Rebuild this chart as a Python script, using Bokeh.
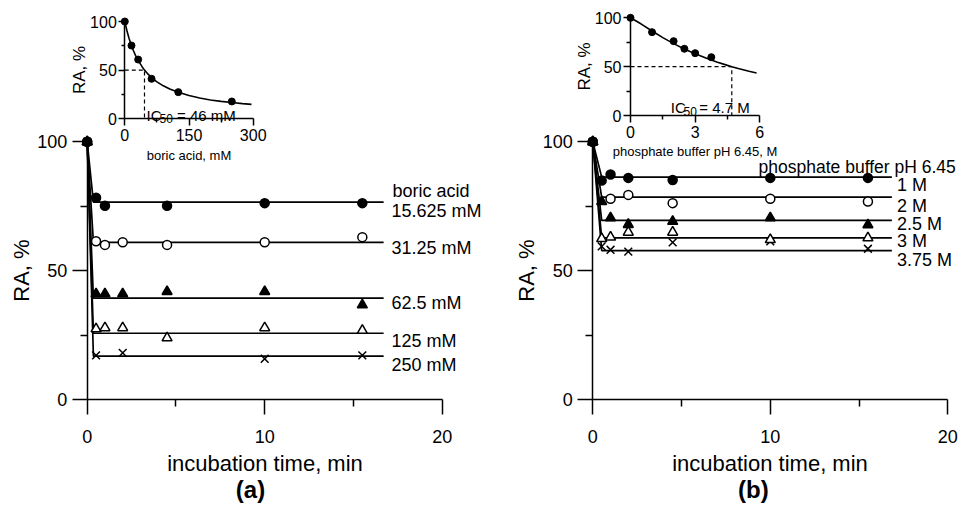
from bokeh.plotting import figure
from bokeh.models import Range1d, LinearAxis, FixedTicker, Label
from bokeh.embed import file_html
from bokeh.resources import INLINE

# ---------------- data ----------------
# (a) boric acid, main panel: incubation time (min) vs RA (%)
a_series = ["15.625 mM", "31.25 mM", "62.5 mM", "125 mM", "250 mM"]
a_t_1 = [0, 0.5, 1, 4.5, 10, 15.5]
a_ra_1 = [100, 78.3, 75.2, 75.2, 76.2, 76.2]
a_t_2 = [0, 0.5, 1, 2, 4.5, 10, 15.5]
a_ra_2 = [100, 61.4, 60.0, 61.0, 60.0, 61.0, 63.0]
a_t_3 = [0, 0.5, 1, 2, 4.5, 10, 15.5]
a_ra_3 = [100, 41.0, 41.0, 41.0, 41.9, 41.9, 36.7]
a_t_4 = [0, 0.5, 1, 2, 4.5, 10, 15.5]
a_ra_4 = [100, 27.4, 27.8, 27.8, 23.9, 27.8, 26.8]
a_t_5 = [0, 0.5, 2, 10, 15.5]
a_ra_5 = [100, 17.1, 18.1, 15.8, 17.1]
a_fit_t = [0, 0.35, 16.7]
a_fit_start = 100
a_plateau = [76.6, 61.0, 39.3, 25.7, 16.8]

# (b) phosphate buffer, main panel
b_series = ["1 M", "2 M", "2.5 M", "3 M", "3.75 M"]
b_t_1 = [0, 0.5, 1, 2, 4.5, 10, 15.5]
b_ra_1 = [100, 85.0, 87.3, 86.0, 85.2, 86.0, 86.0]
b_t_2 = [0, 1, 2, 4.5, 10, 15.5]
b_ra_2 = [100, 77.9, 79.4, 76.2, 77.9, 76.8]
b_t_3 = [0, 0.5, 1, 2, 4.5, 10, 15.5]
b_ra_3 = [100, 76.8, 70.5, 67.9, 69.1, 70.5, 67.8]
b_t_4 = [0, 0.5, 1, 2, 4.5, 10, 15.5]
b_ra_4 = [100, 62.4, 63.0, 64.9, 64.9, 62.0, 62.7]
b_t_5 = [0, 0.5, 1, 2, 4.5, 10, 15.5]
b_ra_5 = [100, 59.4, 58.1, 57.4, 61.0, 61.4, 58.5]
b_fit_t = [0, 0.5, 16.85]
b_fit_start = 100
b_plateau = [86.3, 78.5, 69.5, 62.7, 57.8]

# inset (a): boric acid concentration (mM) vs RA (%)
ia_conc = [0, 15.625, 31.25, 62.5, 125, 250]
ia_ra = [100, 75.3, 60.9, 41.1, 27.4, 17.8]
ia_fit_x = [0, 5, 10, 15.6, 20, 25, 31.25, 40, 46, 55, 62.5, 75, 90, 105, 125,
            150, 175, 200, 225, 250, 275, 296]
ia_fit_y = [100, 90.5, 82.5, 75.2, 70.2, 65.2, 60.0, 53.8, 50.0, 45.6, 42.3, 37.9,
            33.9, 30.6, 27.2, 23.9, 21.3, 19.4, 17.9, 16.7, 15.6, 14.8]
ia_ic50 = 46

# inset (b): phosphate buffer concentration (M) vs RA (%)
ib_conc = [0, 1, 2, 2.5, 3, 3.75]
ib_ra = [100, 85.3, 76.1, 68.3, 63.8, 59.7]
ib_fit_x = [0, 0.5, 1, 1.5, 2, 2.5, 3, 3.5, 4, 4.5, 4.7, 5, 5.5, 5.85]
ib_fit_y = [100, 93.6, 86.5, 79.7, 73.6, 68.1, 63.2, 58.8, 54.8, 51.3, 50.0, 48.1, 45.3, 43.5]
ib_ic50 = 4.7

# ---------------- layout ----------------
W, H = 958, 503
FONT = "Liberation Sans"


def lin_range(v1, p1, v2, p2, size):
    s = (p2 - p1) / (v2 - v1)
    start = v1 - p1 / s
    return Range1d(start=start, end=start + size / s)


p = figure(width=W, height=H, title=None, toolbar_location=None,
           output_backend="svg", x_axis_type=None, y_axis_type=None,
           min_border=0, min_border_left=0, min_border_right=0,
           min_border_top=0, min_border_bottom=0)
p.outline_line_color = None
p.background_fill_color = "white"
p.border_fill_color = "white"

p.x_range = lin_range(0, 86.7, 20, 441.7, W)
p.y_range = lin_range(0, 104, 100, 361.7, H)
p.extra_x_ranges = {
    "bx": lin_range(0, 592.3, 20, 947.3, W),
    "iax": lin_range(0, 124.3, 300, 252.7, W),
    "ibx": lin_range(0, 630, 6, 759.3, W),
}
p.extra_y_ranges = {
    "iay": lin_range(0, 384.7, 100, 482, H),
    "iby": lin_range(0, 388, 100, 485.7, H),
}


def style_axis(ax, tick_font, label_font, major_out, minor_out, standoff, label_standoff):
    ax.axis_line_color = "black"
    ax.axis_line_width = 1.5
    ax.major_tick_line_color = "black"
    ax.major_tick_line_width = 1.5
    ax.minor_tick_line_color = "black"
    ax.minor_tick_line_width = 1.5
    ax.major_tick_in = 0
    ax.major_tick_out = major_out
    ax.minor_tick_in = 0
    ax.minor_tick_out = minor_out
    ax.major_label_text_font = FONT
    ax.major_label_text_font_size = tick_font
    ax.major_label_text_color = "black"
    ax.major_label_standoff = standoff
    ax.axis_label_text_font = FONT
    ax.axis_label_text_font_size = label_font
    ax.axis_label_text_font_style = "normal"
    ax.axis_label_text_color = "black"
    ax.axis_label_standoff = label_standoff


# main axes (a)
ax = LinearAxis(fixed_location=0, bounds=(0, 100), axis_label="RA, %",
                ticker=FixedTicker(ticks=[0, 50, 100], minor_ticks=[25, 75]))
style_axis(ax, "18px", "22px", 15, 7, 5, 0)
p.add_layout(ax, "left")
ax = LinearAxis(fixed_location=0, bounds=(0, 20), axis_label="incubation time, min",
                ticker=FixedTicker(ticks=[0, 10, 20], minor_ticks=[5, 15]))
style_axis(ax, "18px", "22px", 15, 7, 15, 5)
p.add_layout(ax, "below")

# main axes (b)
ax = LinearAxis(x_range_name="bx", fixed_location=0, bounds=(0, 100), axis_label="RA, %",
                ticker=FixedTicker(ticks=[0, 50, 100], minor_ticks=[25, 75]))
style_axis(ax, "18px", "22px", 15, 7, 5, 0)
p.add_layout(ax, "left")
ax = LinearAxis(x_range_name="bx", fixed_location=0, bounds=(0, 20),
                axis_label="incubation time, min",
                ticker=FixedTicker(ticks=[0, 10, 20], minor_ticks=[5, 15]))
style_axis(ax, "18px", "22px", 15, 7, 15, 5)
p.add_layout(ax, "below")

# inset axes (a)
ax = LinearAxis(x_range_name="iax", y_range_name="iay", fixed_location=0, bounds=(0, 100),
                axis_label="RA, %",
                ticker=FixedTicker(ticks=[0, 50, 100], minor_ticks=[25, 75]))
style_axis(ax, "16px", "17px", 6, 3, 2, -2)
p.add_layout(ax, "left")
ax = LinearAxis(x_range_name="iax", y_range_name="iay", fixed_location=0, bounds=(0, 300),
                axis_label="boric acid, mM",
                ticker=FixedTicker(ticks=[0, 150, 300], minor_ticks=[75, 225]))
style_axis(ax, "16px", "13px", 7, 4, 3, 4)
p.add_layout(ax, "below")

# inset axes (b)
ax = LinearAxis(x_range_name="ibx", y_range_name="iby", fixed_location=0, bounds=(0, 100),
                axis_label="RA, %",
                ticker=FixedTicker(ticks=[0, 50, 100], minor_ticks=[25, 75]))
style_axis(ax, "16px", "17px", 7, 4, 2, -2)
p.add_layout(ax, "left")
ax = LinearAxis(x_range_name="ibx", y_range_name="iby", fixed_location=0, bounds=(0, 6),
                axis_label="phosphate buffer pH 6.45, M",
                ticker=FixedTicker(ticks=[0, 3, 6], minor_ticks=[1.5, 4.5]))
style_axis(ax, "16px", "13px", 7, 4, 3, 3)
p.add_layout(ax, "below")

# ---------------- marks ----------------
markers = [
    dict(marker="circle", size=9, fill_color="black"),
    dict(marker="circle", size=9, fill_color="white"),
    dict(marker="triangle", size=10, fill_color="black"),
    dict(marker="triangle", size=10, fill_color="white"),
    dict(marker="x", size=11, fill_color=None),
]

# fit lines
for plat in a_plateau:
    p.line(a_fit_t, [a_fit_start, plat, plat], line_color="black", line_width=1.7)
for plat in b_plateau:
    p.line(b_fit_t, [b_fit_start, plat, plat], line_color="black", line_width=1.7,
           x_range_name="bx")

a_data = [(a_t_1, a_ra_1), (a_t_2, a_ra_2), (a_t_3, a_ra_3), (a_t_4, a_ra_4), (a_t_5, a_ra_5)]
b_data = [(b_t_1, b_ra_1), (b_t_2, b_ra_2), (b_t_3, b_ra_3), (b_t_4, b_ra_4), (b_t_5, b_ra_5)]
order = [4, 3, 1, 2, 0]  # draw open markers first so filled ones sit on top at t = 0
for i in order:
    tt, rr = a_data[i]
    p.scatter(tt, rr, line_color="black", line_width=1.5, **markers[i])
for i in order:
    tt, rr = b_data[i]
    p.scatter(tt, rr, line_color="black", line_width=1.5, x_range_name="bx", **markers[i])

# insets
p.line(ia_fit_x, ia_fit_y, line_color="black", line_width=1.6,
       x_range_name="iax", y_range_name="iay")
p.line([0, ia_ic50, ia_ic50], [50, 50, 0], line_color="black", line_width=1.2,
       line_dash="4 3", x_range_name="iax", y_range_name="iay")
p.scatter(ia_conc, ia_ra, marker="circle", size=7, fill_color="black", line_color="black",
          x_range_name="iax", y_range_name="iay")

p.line(ib_fit_x, ib_fit_y, line_color="black", line_width=1.6,
       x_range_name="ibx", y_range_name="iby")
p.line([0, ib_ic50, ib_ic50], [50, 50, 0], line_color="black", line_width=1.2,
       line_dash="4 3", x_range_name="ibx", y_range_name="iby")
p.scatter(ib_conc, ib_ra, marker="circle", size=7, fill_color="black", line_color="black",
          x_range_name="ibx", y_range_name="iby")

# ---------------- texts ----------------
def label(text, x, y, size, xr="default", yr="default", align="left", baseline="alphabetic",
          x_offset=0, y_offset=0, style="normal"):
    p.add_layout(Label(x=x, y=y, text=text, x_range_name=xr, y_range_name=yr,
                       text_font=FONT, text_font_size=size, text_color="black",
                       text_align=align, text_baseline=baseline, text_font_style=style,
                       x_offset=x_offset, y_offset=y_offset))

a_label_y = [73.3, 58.9, 37.4, 22.6, 13.5]
b_label_y = [83.3, 75.0, 68.2, 61.4, 54.2]
label("boric acid", 17.2, 81.1, "18px")
for name, yy in zip(a_series, a_label_y):
    label(name, 17.14, yy, "18px")
label("phosphate buffer pH 6.45", 9.34, 90.1, "17.5px", xr="bx")
for name, yy in zip(b_series, b_label_y):
    label(name, 17.14, yy, "18px", xr="bx")

# IC50 annotations
label("IC", 50.7, 3.4, "15px", xr="iax", yr="iay")
label("50", 50.7, 3.4, "12px", xr="iax", yr="iay", x_offset=13, y_offset=-3.5)
label("= " + str(ia_ic50) + " mM", 50.7, 3.4, "15px", xr="iax", yr="iay", x_offset=30.5)
label("IC", 1.87, 7.9, "15px", xr="ibx", yr="iby")
label("50", 1.87, 7.9, "12px", xr="ibx", yr="iby", x_offset=12.8, y_offset=-3.5)
label("= " + str(ib_ic50) + " M", 1.87, 7.9, "15px", xr="ibx", yr="iby", x_offset=28.5)

# panel letters
label("(a)", 9.2, -40.0, "24px", align="center", baseline="bottom", style="bold")
label("(b)", 9.05, -40.0, "24px", xr="bx", align="center", baseline="bottom", style="bold")

open("out.html", "w").write(file_html(p, INLINE))
